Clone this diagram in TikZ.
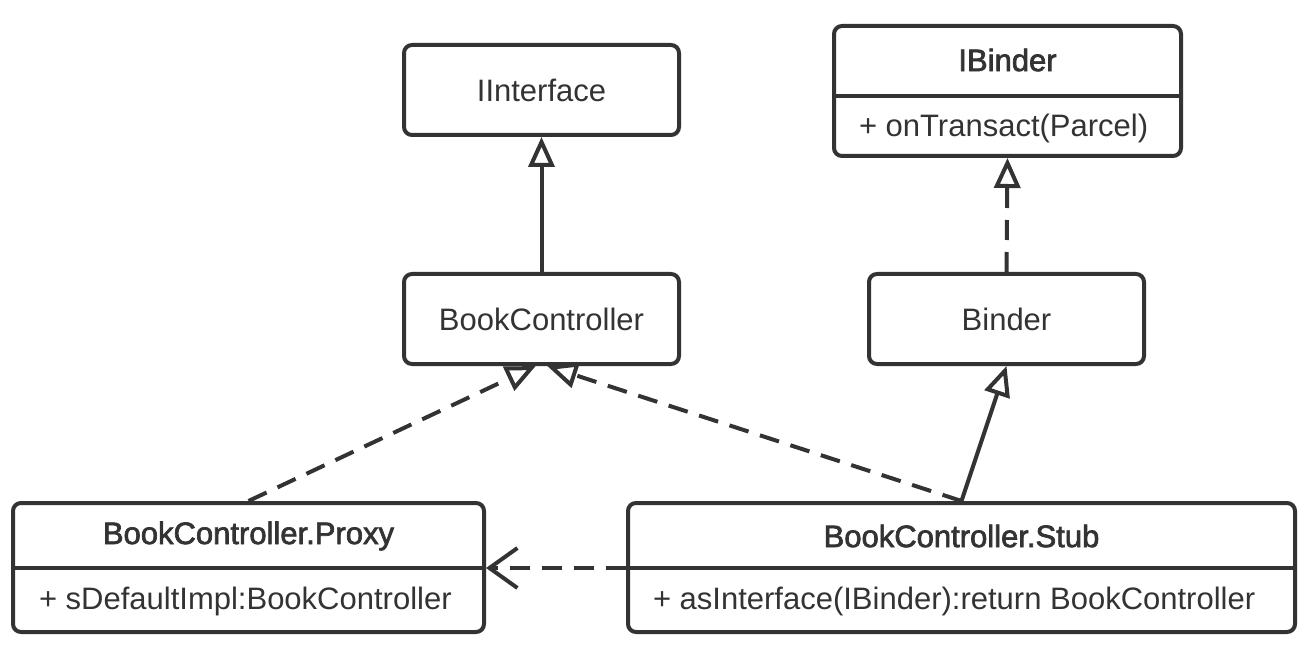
\documentclass[tikz,border=0pt]{standalone}
\usepackage{fontspec}
\setmainfont{Liberation Sans}
\newfontfamily\semib{Liberation Sans}[FakeBold=2.2]
\usetikzlibrary{arrows.meta,calc}
\definecolor{ink}{HTML}{333333}
\begin{document}
\begin{tikzpicture}[x=1pt,y=-1pt,
  line width=4pt, draw=ink, text=ink,
  every node/.style={font=\fontsize{31}{35}\selectfont, inner sep=0pt},
  classbox/.style={draw=ink, line width=4pt, rounded corners=8pt, fill=white},
  head/.style={font=\fontsize{31}{35}\selectfont\semib},
  member/.style={anchor=west},
  inherit/.style={ink, -{Triangle[open, length=30pt, width=26pt, line width=4pt]}},
  realize/.style={inherit, dash pattern=on 20pt off 12pt},
  depend/.style={ink, dash pattern=on 20pt off 12pt, -{Straight Barb[length=28pt, width=40pt, line width=4pt]}}
]
\useasboundingbox (0,0) rectangle (1304,652);

% IInterface
\node[classbox, minimum width=275pt, minimum height=90pt] (iint) at (541.5,90) {IInterface};
% BookController
\node[classbox, minimum width=275pt, minimum height=90pt] (bc) at (541.5,319) {BookController};
% Binder
\node[classbox, minimum width=275pt, minimum height=90pt] (binder) at (1006.5,319) {Binder};

% IBinder
\node[classbox, minimum width=347pt, minimum height=130pt] (ibinder) at (1007.5,91) {};
\draw[ink] (ibinder.west |- 0,96) -- (ibinder.east |- 0,96);
\node[head] (ibinderT) at (1007.5,60) {IBinder};
\node[member] (ibinderM) at (857,128) {+ onTransact(Parcel)};

% Proxy
\node[classbox, minimum width=471pt, minimum height=129pt] (proxy) at (248.5,567.5) {};
\coordinate (proxyR) at (proxy.east |- 0,568);
\draw[ink] (proxy.west |- 0,568) -- (proxyR);
\node[head] (proxyT) at (248.5,536) {BookController.Proxy};
\node[member] (proxyM) at (37,601) {+ sDefaultImpl:BookController};

% Stub
\node[classbox, minimum width=667pt, minimum height=129pt] (stub) at (961.5,567.5) {};
\coordinate (stubL) at (stub.west |- 0,568);
\draw[ink] (stubL) -- (stub.east |- 0,568);
\node[head] (stubT) at (961.5,536) {BookController.Stub};
\node[member] (stubM) at (651,601) {+ asInterface(IBinder):return BookController};

% connectors
\draw[inherit] (bc.north) -- (iint.south);
\draw[realize] (binder.north) -- (ibinder.south);
\draw[realize] (proxy.north) -- (bc.-97);
\draw[realize] (stub.north) -- (bc.-83);
\draw[inherit] (stub.north) -- (binder.south);
\draw[depend] (stubL) -- (proxyR);
\end{tikzpicture}
\end{document}
